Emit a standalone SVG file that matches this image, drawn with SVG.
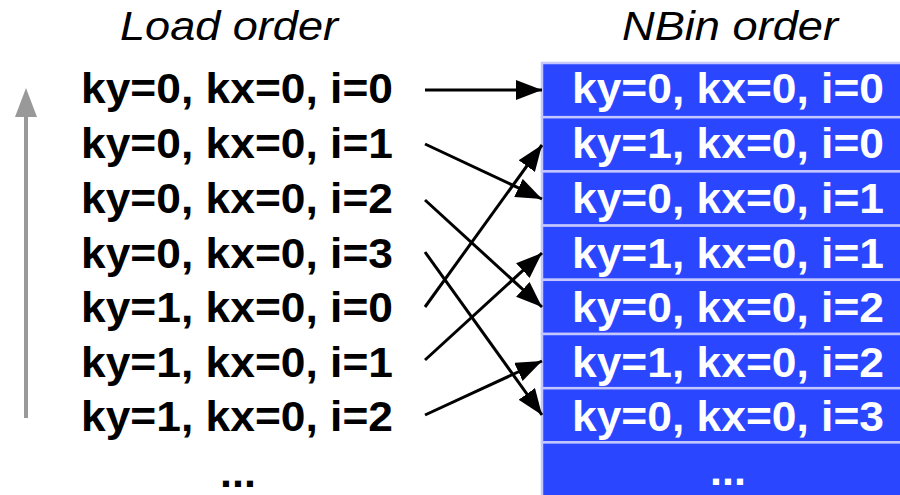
<svg xmlns="http://www.w3.org/2000/svg" width="900" height="495" viewBox="0 0 900 495">
  <defs>
    <style>
      .title { font-family: "Liberation Sans", Arial, sans-serif; font-style: italic; font-size: 40px; fill: #000; text-anchor: middle; }
      .lbl { font-family: "Liberation Sans", Arial, sans-serif; font-weight: bold; font-size: 43px; fill: #000; text-anchor: middle; }
      .cell rect { fill: #2a47ff; stroke: #c4c6ff; stroke-width: 2.5; }
      .cell text { font-family: "Liberation Sans", Arial, sans-serif; font-weight: bold; font-size: 43px; fill: #fff; text-anchor: middle; }
      .edge { stroke: #000; stroke-width: 3; fill: none; marker-end: url(#head); }
    </style>
    <marker id="head" markerUnits="userSpaceOnUse" markerWidth="26" markerHeight="20" refX="26" refY="10" orient="auto">
      <path d="M0,0 L26,10 L0,20 z" fill="#000"/>
    </marker>
    <marker id="headGray" markerUnits="userSpaceOnUse" markerWidth="22" markerHeight="30" refX="11" refY="0" orient="0">
      <path d="M11,0 L22,30 L0,30 z" fill="#999"/>
    </marker>
  </defs>

  <rect width="900" height="495" fill="#fff"/>

  <!-- column headings -->
  <text class="title" x="229" y="40" textLength="218" lengthAdjust="spacingAndGlyphs">Load order</text>
  <text class="title" x="730" y="40" textLength="216" lengthAdjust="spacingAndGlyphs">NBin order</text>

  <!-- load direction indicator -->
  <g id="load-direction">
    <line x1="26" y1="418" x2="26" y2="116" stroke="#999" stroke-width="4"/>
    <path d="M26,88 L37,117 L15,117 z" fill="#999"/>
  </g>

  <!-- load order list -->
  <g id="load-0"><text class="lbl" x="237" y="103" textLength="312" lengthAdjust="spacingAndGlyphs">ky=0, kx=0, i=0</text></g>
  <g id="load-1"><text class="lbl" x="237" y="158" textLength="312" lengthAdjust="spacingAndGlyphs">ky=0, kx=0, i=1</text></g>
  <g id="load-2"><text class="lbl" x="237" y="213" textLength="312" lengthAdjust="spacingAndGlyphs">ky=0, kx=0, i=2</text></g>
  <g id="load-3"><text class="lbl" x="237" y="268" textLength="312" lengthAdjust="spacingAndGlyphs">ky=0, kx=0, i=3</text></g>
  <g id="load-4"><text class="lbl" x="237" y="322" textLength="312" lengthAdjust="spacingAndGlyphs">ky=1, kx=0, i=0</text></g>
  <g id="load-5"><text class="lbl" x="237" y="377" textLength="312" lengthAdjust="spacingAndGlyphs">ky=1, kx=0, i=1</text></g>
  <g id="load-6"><text class="lbl" x="237" y="431" textLength="312" lengthAdjust="spacingAndGlyphs">ky=1, kx=0, i=2</text></g>
  <g id="load-more"><text class="lbl" x="238" y="487">...</text></g>

  <!-- NBin order column -->
  <g id="nbin-0" class="cell"><rect x="542" y="63" width="370" height="54.2"/><text x="728" y="103" textLength="312" lengthAdjust="spacingAndGlyphs">ky=0, kx=0, i=0</text></g>
  <g id="nbin-1" class="cell"><rect x="542" y="117.2" width="370" height="54.2"/><text x="728" y="158" textLength="312" lengthAdjust="spacingAndGlyphs">ky=1, kx=0, i=0</text></g>
  <g id="nbin-2" class="cell"><rect x="542" y="171.4" width="370" height="54.2"/><text x="728" y="213" textLength="312" lengthAdjust="spacingAndGlyphs">ky=0, kx=0, i=1</text></g>
  <g id="nbin-3" class="cell"><rect x="542" y="225.6" width="370" height="54.2"/><text x="728" y="268" textLength="312" lengthAdjust="spacingAndGlyphs">ky=1, kx=0, i=1</text></g>
  <g id="nbin-4" class="cell"><rect x="542" y="279.8" width="370" height="54.2"/><text x="728" y="322" textLength="312" lengthAdjust="spacingAndGlyphs">ky=0, kx=0, i=2</text></g>
  <g id="nbin-5" class="cell"><rect x="542" y="334" width="370" height="54.2"/><text x="728" y="377" textLength="312" lengthAdjust="spacingAndGlyphs">ky=1, kx=0, i=2</text></g>
  <g id="nbin-6" class="cell"><rect x="542" y="388.2" width="370" height="54.2"/><text x="728" y="431" textLength="312" lengthAdjust="spacingAndGlyphs">ky=0, kx=0, i=3</text></g>
  <g id="nbin-more" class="cell"><rect x="542" y="442.4" width="370" height="60"/><text x="728" y="485">...</text></g>

  <!-- reordering connectors -->
  <g id="connectors">
    <line class="edge" x1="425" y1="90" x2="542" y2="90"/>
    <line class="edge" x1="425" y1="144" x2="542" y2="199"/>
    <line class="edge" x1="425" y1="200" x2="542" y2="307"/>
    <line class="edge" x1="425" y1="252" x2="542" y2="415"/>
    <line class="edge" x1="425" y1="307" x2="542" y2="145"/>
    <line class="edge" x1="425" y1="360" x2="542" y2="253"/>
    <line class="edge" x1="425" y1="415" x2="542" y2="361"/>
  </g>
</svg>
